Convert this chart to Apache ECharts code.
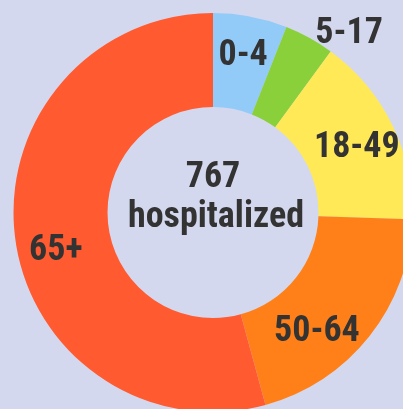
<!DOCTYPE html>
<html>
<head>
<meta charset="utf-8">
<script src="https://cdn.jsdelivr.net/npm/echarts@6/dist/echarts.min.js"></script>
<style>
html,body{margin:0;padding:0;background:#d4d8ee;}
#c{width:403px;height:409px;}
</style>
</head>
<body>
<div id="c"></div>
<script>
var categories = ['0-4', '5-17', '18-49', '50-64', '65+'];
var values = [46, 31, 119, 155, 416];
var colors = ['#93cbf8', '#8ad03a', '#ffe956', '#ff8019', '#ff5a30'];
var totalLabel = 'hospitalized';
var labelOffsets = [[1, -4], [61, -42], [4, 4], [-18, 23], [-3, 18]];

var total = values.reduce(function (a, b) { return a + b; }, 0);
var FONT = "'Roboto Condensed', 'Liberation Sans Narrow', Roboto, sans-serif";

var chart = echarts.init(document.getElementById('c'));
chart.setOption({
  backgroundColor: '#d4d8ee',
  animation: false,
  graphic: [
    { type: 'text', x: 213, y: 178, style: { text: String(total), fill: '#333', font: 'bold 36px ' + FONT, align: 'center', verticalAlign: 'middle' } },
    { type: 'text', x: 216, y: 218, style: { text: totalLabel, fill: '#333', font: 'bold 36px ' + FONT, align: 'center', verticalAlign: 'middle' } }
  ],
  series: [{
    type: 'pie',
    center: [213, 212.5],
    radius: [105.5, 199.5],
    startAngle: 90,
    clockwise: true,
    silent: true,
    label: {
      show: true,
      position: 'inside',
      color: '#333',
      fontSize: 36,
      fontWeight: 'bold',
      fontFamily: FONT,
      textBorderWidth: 0
    },
    labelLine: { show: false },
    itemStyle: { borderWidth: 0 },
    data: categories.map(function (c, i) {
      return {
        name: c,
        value: values[i],
        itemStyle: { color: colors[i] },
        label: { offset: labelOffsets[i] }
      };
    })
  }]
});
</script>
</body>
</html>
